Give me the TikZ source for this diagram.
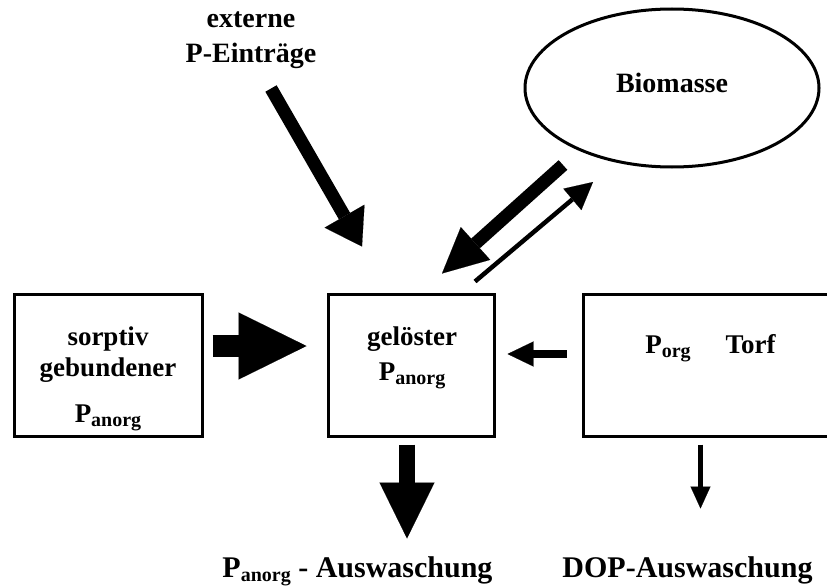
\documentclass[tikz,border=0pt]{standalone}
\usepackage{fontspec}
\setmainfont{Liberation Serif}
\usepackage{tikz}
\usetikzlibrary{arrows.meta, positioning, shapes.geometric, calc}
\newcommand{\psub}[1]{\raisebox{-4pt}{\fontsize{20}{20}\selectfont #1}}

\begin{document}
\begin{tikzpicture}[
  x=1pt, y=-1pt,
  box/.style={rectangle, draw, line width=3pt, minimum height=142pt, inner sep=0pt},
  txt/.style={font=\fontsize{27}{31}\selectfont\bfseries, align=center, inner sep=0pt, anchor=base},
  pfeil/.style n args={3}{line width=#1, -{Triangle[length=#2, width=#3, line width=0.1pt]}}
]
\useasboundingbox (0,0) rectangle (827,586);

% Speicher
\node[box, minimum width=188pt] (sorb) at (108,365) {};
\node[box, minimum width=166pt] (mid) at (411,365) {};
\node[box, minimum width=267pt] (torf) at (716.5,365) {};
\node[ellipse, draw, line width=3pt, minimum width=294pt, minimum height=158pt,
  font=\fontsize{28}{32}\selectfont\bfseries, text depth=10pt] (bio) at (672,88) {Biomasse};

% Beschriftungen (Anker = Grundlinie der letzten Zeile)
\node[txt] (sorbtxt) at (108,422) {sorptiv\\gebundener\\[15pt]P\psub{anorg}};
\node[txt] (midtxt) at (412,380) {gelöster\\[4pt]P\psub{anorg}};
\node[txt] (torftxt) at (710.5,353) {P\psub{org}\hspace{35pt}Torf};
\node[txt, font=\fontsize{28}{35}\selectfont\bfseries] (ext) at (251,63) {externe\\P-Einträge};
\node[txt, font=\fontsize{30}{34}\selectfont\bfseries] (auslab) at (357.5,577) {P\psub{anorg} - Auswaschung};
\node[txt, font=\fontsize{30}{34}\selectfont\bfseries] (doplab) at (687.5,577) {DOP-Auswaschung};

% Endpunkte der Fluesse
\coordinate (ext-s) at ($(mid.north)+(-140,-204)$);
\coordinate (ext-e) at ($(mid.north)+(-49,-46)$);
\coordinate (bio-s) at ($(bio.center)+(-109,77)$);
\coordinate (bio-e) at ($(mid.north)+(31,-19)$);
\coordinate (up-s) at ($(mid.north)+(64,-11)$);
\coordinate (up-e) at ($(bio.center)+(-79,94)$);
\coordinate (sorb-s) at ($(sorb.east)+(9,-19)$);
\coordinate (sorb-e) at ($(mid.west)+(-20,-19)$);
\coordinate (torf-s) at ($(torf.west)+(-15,-11)$);
\coordinate (torf-e) at ($(mid.east)+(12,-11)$);
\coordinate (aus-s) at ($(mid.south)+(-4,7)$);
\coordinate (aus-e) at ($(mid.south)+(-4,101)$);
\coordinate (dop-s) at ($(torf.south west)+(119,7)$);
\coordinate (dop-e) at ($(torf.south west)+(119,71)$);

% Fluesse
\draw[pfeil={13pt}{35pt}{46pt}] (ext-s) -- (ext-e);
\draw[pfeil={13pt}{45pt}{44pt}] (bio-s) -- (bio-e);
\draw[pfeil={4.5pt}{27pt}{28pt}] (up-s) -- (up-e);
\draw[pfeil={22pt}{68pt}{67pt}] (sorb-s) -- (sorb-e);
\draw[pfeil={8pt}{26pt}{25pt}] (torf-s) -- (torf-e);
\draw[pfeil={16pt}{56pt}{55pt}] (aus-s) -- (aus-e);
\draw[pfeil={4.5pt}{22pt}{20pt}] (dop-s) -- (dop-e);

\end{tikzpicture}
\end{document}
